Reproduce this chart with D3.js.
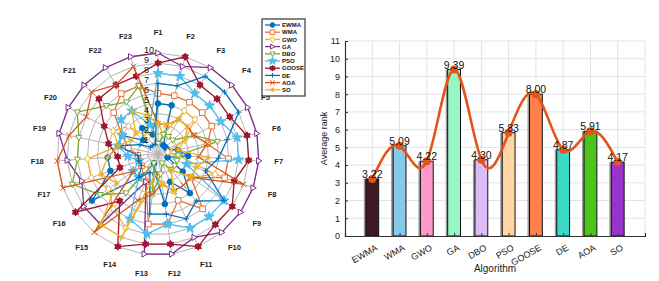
<!DOCTYPE html>
<html>
<head>
<meta charset="utf-8">
<script src="https://cdn.jsdelivr.net/npm/d3@7"></script>
<style>
  body { margin: 0; background: #fff; }
  svg { font-family: "Liberation Sans", Arial, sans-serif; }
</style>
</head>
<body>
<svg width="659" height="281"></svg>
<script>
window.onload = () => {

  // ---- data ----
  const algorithms = ['EWMA', 'WMA', 'GWO', 'GA', 'DBO', 'PSO', 'GOOSE', 'DE', 'AOA', 'SO'];
  const functions = d3.range(1, 24).map(i => 'F' + i);
  const ringTicks = [1, 2, 3, 4, 5, 6, 7, 8, 9, 10];
  const yTicks = [0, 1, 2, 3, 4, 5, 6, 7, 8, 9, 10, 11];

  // rank of each algorithm on F1..F23
  const rankEWMA  = [5, 5, 1, 1, 1, 2, 3, 1, 3, 5, 3, 5, 2, 1, 3, 8, 5, 5, 4, 4, 2, 3, 2];
  const rankWMA   = [6, 6, 6, 6, 6, 5, 7, 7, 4, 7, 5, 7, 7, 3, 2, 2, 2, 2, 3, 4, 6, 7, 7];
  const rankGWO   = [3, 2, 5, 5, 3, 1, 2, 6, 4, 2, 4, 3, 3, 8, 7, 6, 7, 7, 4, 5, 4, 2, 4];
  const rankGA    = [10, 9, 10, 10, 10, 10, 10, 10, 10, 10, 9, 10, 10, 3, 9, 9, 8, 9, 10, 10, 10, 10, 10];
  const rankDBO   = [1, 2, 2, 2, 4, 6, 2, 2, 2, 2, 1, 2, 4, 1, 5, 7, 9, 8, 8, 9, 7, 6, 7];
  const rankPSO   = [8, 8, 7, 7, 7, 8, 8, 3, 8, 8, 8, 7, 8, 7, 3, 3, 2, 3, 4, 4, 5, 5, 3];
  const rankGOOSE = [9, 10, 8, 8, 8, 9, 9, 8, 9, 9, 10, 9, 9, 10, 6, 10, 4, 4, 5, 6, 8, 8, 8];
  const rankDE    = [7, 7, 9, 9, 9, 7, 6, 5, 8, 6, 7, 6, 6, 2, 3, 2, 2, 2, 4, 2, 1, 1, 1];
  const rankAOA   = [3, 3, 4, 4, 4, 5, 4, 9, 4, 4, 4, 3, 4, 5, 10, 3, 10, 10, 9, 8, 9, 8, 9];
  const rankSO    = [3, 3, 4, 4, 3, 2, 5, 4, 4, 2, 4, 3, 2, 9, 9, 5, 6, 5, 4, 3, 3, 5, 4];

  const averageRank = [3.22, 5.09, 4.22, 9.39, 4.30, 5.83, 8.00, 4.87, 5.91, 4.17];

  const ranks = [rankEWMA, rankWMA, rankGWO, rankGA, rankDBO, rankPSO, rankGOOSE, rankDE, rankAOA, rankSO];

  const lineColors = ['#0072BD', '#E5733F', '#EDB120', '#7E2F8E', '#77AC30', '#4DBEEE', '#A2142F', '#0072BD', '#D95319', '#EDB120'];
  const markers = ['o', 's', 'd', '>', 'v', 'p', 'h', '+', 'x', '*'];
  const barColors = ['#3f1a22', '#86c9e8', '#ff99cc', '#98f5c4', '#dcbcf7', '#ffd5a6', '#ff7f4d', '#3ad9c6', '#4cc41c', '#9933cc'];

  const svg = d3.select('svg');

  // ---- marker shapes ----
  const markerPath = (type, s) => {
    switch (type) {
      case 'o': return d3.symbol(d3.symbolCircle, Math.PI * s * s)();
      case 's': return `M${-s},${-s}H${s}V${s}H${-s}Z`;
      case 'd': return `M0,${-s * 1.3}L${s},0L0,${s * 1.3}L${-s},0Z`;
      case '>': return `M${s * 1.1},0L${-s * 0.8},${-s * 1.1}L${-s * 0.8},${s * 1.1}Z`;
      case 'v': return `M0,${s * 1.1}L${-s * 1.1},${-s * 0.8}L${s * 1.1},${-s * 0.8}Z`;
      case 'p': return d3.symbol(d3.symbolStar, s * s * 4)();
      case 'h': {
        const a = d3.range(3).map(i => [Math.sin(i * 2 * Math.PI / 3) * s * 1.3, -Math.cos(i * 2 * Math.PI / 3) * s * 1.3]);
        const b = a.map(p => [-p[0], -p[1]]);
        return 'M' + a.join('L') + 'Z' + 'M' + b.join('L') + 'Z';
      }
      case '+': return `M${-s},0H${s}M0,${-s}V${s}`;
      case 'x': return `M${-s},${-s}L${s},${s}M${-s},${s}L${s},${-s}`;
      case '*': {
        const d = s * 0.72;
        return `M${-s},0H${s}M0,${-s}V${s}M${-d},${-d}L${d},${d}M${-d},${d}L${d},${-d}`;
      }
    }
  };
  const markerFill = (type, color) => {
    if (type === 'o' || type === 'p' || type === 'h') return color;
    if (type === '+' || type === 'x' || type === '*') return 'none';
    return '#fff';
  };

  // ---- radar chart ----
  const cx = 158, cy = 154;
  const rScale = d3.scaleLinear().domain([0, 10]).range([0, 101]);
  const angle = d3.scaleLinear().domain([0, functions.length]).range([0, 2 * Math.PI]);
  const radar = svg.append('g').attr('transform', `translate(${cx},${cy})`);

  const ringLine = d3.lineRadial()
      .angle((d, i) => angle(i))
      .radius(d => rScale(d))
      .curve(d3.curveLinearClosed);

  radar.selectAll('.ring')
    .data(ringTicks)
    .join('path')
      .attr('d', v => ringLine(functions.map(() => v)))
      .attr('fill', 'none')
      .attr('stroke', '#b4b4b4')
      .attr('stroke-width', 1);

  radar.selectAll('.spoke')
    .data(functions)
    .join('line')
      .attr('x2', (d, i) => rScale(10) * Math.sin(angle(i)))
      .attr('y2', (d, i) => -rScale(10) * Math.cos(angle(i)))
      .attr('stroke', '#b4b4b4')
      .attr('stroke-width', 1);

  radar.selectAll('.flabel')
    .data(functions)
    .join('text')
      .attr('x', (d, i) => 121 * Math.sin(angle(i)))
      .attr('y', (d, i) => -121 * Math.cos(angle(i)))
      .attr('text-anchor', 'middle')
      .attr('dominant-baseline', 'middle')
      .attr('font-size', 7.5)
      .attr('font-weight', 'bold')
      .attr('fill', '#222')
      .text(d => d);

  const series = radar.selectAll('.series')
    .data(ranks)
    .join('g');

  series.append('path')
      .attr('d', d => ringLine(d))
      .attr('fill', 'none')
      .attr('stroke', (d, i) => lineColors[i])
      .attr('stroke-width', 1.3);

  series.each(function(d, k) {
    d3.select(this).selectAll('path.mk')
      .data(d)
      .join('path')
        .attr('class', 'mk')
        .attr('transform', (v, i) => `translate(${rScale(v) * Math.sin(angle(i))},${-rScale(v) * Math.cos(angle(i))})`)
        .attr('d', markerPath(markers[k], 2.8))
        .attr('fill', markerFill(markers[k], lineColors[k]))
        .attr('stroke', lineColors[k])
        .attr('stroke-width', 1);
  });

  radar.selectAll('.rlabel')
    .data(ringTicks)
    .join('text')
      .attr('x', -14)
      .attr('y', v => 152.7 - 9.95 * v - cy)
      .attr('font-size', 9)
      .attr('fill', '#111')
      .text(v => v);

  // legend
  const legend = svg.append('g').attr('transform', 'translate(262,19)');
  legend.append('rect')
      .attr('width', 43).attr('height', 77)
      .attr('fill', '#fff')
      .attr('stroke', '#444')
      .attr('stroke-width', 1.3);
  const item = legend.selectAll('.item')
    .data(algorithms)
    .join('g')
      .attr('transform', (d, i) => `translate(0,${6 + i * 7.2})`);
  item.append('line')
      .attr('x1', 3).attr('x2', 18)
      .attr('stroke', (d, i) => lineColors[i])
      .attr('stroke-width', 1.3);
  item.append('path')
      .attr('transform', 'translate(10.5,0)')
      .attr('d', (d, i) => markerPath(markers[i], 2.3))
      .attr('fill', (d, i) => markerFill(markers[i], lineColors[i]))
      .attr('stroke', (d, i) => lineColors[i]);
  item.append('text')
      .attr('x', 20).attr('y', 2.2)
      .attr('font-size', 6)
      .attr('font-weight', 'bold')
      .attr('fill', '#111')
      .text(d => d);

  // ---- bar chart ----
  const left = 345, right = 645, top = 41, bottom = 236;
  const x = d3.scaleLinear().domain([0, 11]).range([left, right]);
  const y = d3.scaleLinear().domain([0, 11]).range([bottom, top]);
  const bars = svg.append('g');

  bars.selectAll('.hgrid')
    .data(yTicks.slice(1))
    .join('line')
      .attr('x1', left).attr('x2', right)
      .attr('y1', d => y(d)).attr('y2', d => y(d))
      .attr('stroke', '#e3e3e3');
  bars.selectAll('.vgrid')
    .data(d3.range(1, 12))
    .join('line')
      .attr('x1', d => x(d)).attr('x2', d => x(d))
      .attr('y1', top).attr('y2', bottom)
      .attr('stroke', '#e3e3e3');

  const bw = x(0.47) - x(0);
  bars.selectAll('.shadow')
    .data(averageRank)
    .join('rect')
      .attr('x', (d, i) => x(i + 1) - bw / 2 - 2)
      .attr('y', d => y(d))
      .attr('width', bw)
      .attr('height', d => bottom - y(d))
      .attr('fill', '#9a9a9a');
  bars.selectAll('.bar')
    .data(averageRank)
    .join('rect')
      .attr('x', (d, i) => x(i + 1) - bw / 2)
      .attr('y', d => y(d))
      .attr('width', bw)
      .attr('height', d => bottom - y(d))
      .attr('fill', (d, i) => barColors[i])
      .attr('stroke', '#111')
      .attr('stroke-width', 1);

  const yAxis = bars.append('g')
      .attr('transform', `translate(${left},0)`)
      .call(d3.axisLeft(y).tickValues(yTicks).tickSize(-3).tickPadding(5));
  const xAxis = bars.append('g')
      .attr('transform', `translate(0,${bottom})`)
      .call(d3.axisBottom(x).tickValues(d3.range(1, 11)).tickSize(-3).tickFormat(d => algorithms[d - 1]));
  [yAxis, xAxis].forEach(a => {
    a.select('.domain').attr('stroke', '#333').attr('stroke-width', 1.2);
    a.selectAll('.tick line').attr('stroke', '#333');
    a.selectAll('text').attr('font-size', 9).attr('fill', '#222').attr('font-family', '"Liberation Sans", Arial, sans-serif');
  });
  xAxis.selectAll('text')
      .attr('text-anchor', 'end')
      .attr('dy', 0)
      .attr('transform', 'translate(4,11) rotate(-30)');

  const curve = d3.line()
      .x((d, i) => x(i + 1))
      .y(d => y(d))
      .curve(d3.curveNatural);
  bars.append('path')
      .datum(averageRank)
      .attr('d', curve)
      .attr('fill', 'none')
      .attr('stroke', '#e0561b')
      .attr('stroke-width', 2.6);
  bars.selectAll('.dot')
    .data(averageRank)
    .join('circle')
      .attr('cx', (d, i) => x(i + 1))
      .attr('cy', d => y(d))
      .attr('r', 4)
      .attr('fill', '#e0561b');
  bars.selectAll('.val')
    .data(averageRank)
    .join('text')
      .attr('x', (d, i) => x(i + 1))
      .attr('y', d => y(d) - 1)
      .attr('text-anchor', 'middle')
      .attr('font-size', 10.5)
      .attr('fill', '#111')
      .text(d => d.toFixed(2));

  svg.append('text')
      .attr('transform', `translate(327,${(top + bottom) / 2}) rotate(-90)`)
      .attr('text-anchor', 'middle')
      .attr('font-size', 9)
      .attr('fill', '#222')
      .text('Average rank');
  svg.append('text')
      .attr('x', 495).attr('y', 272)
      .attr('text-anchor', 'middle')
      .attr('font-size', 10)
      .attr('fill', '#222')
      .text('Algorithm');
};
</script>
</body>
</html>
